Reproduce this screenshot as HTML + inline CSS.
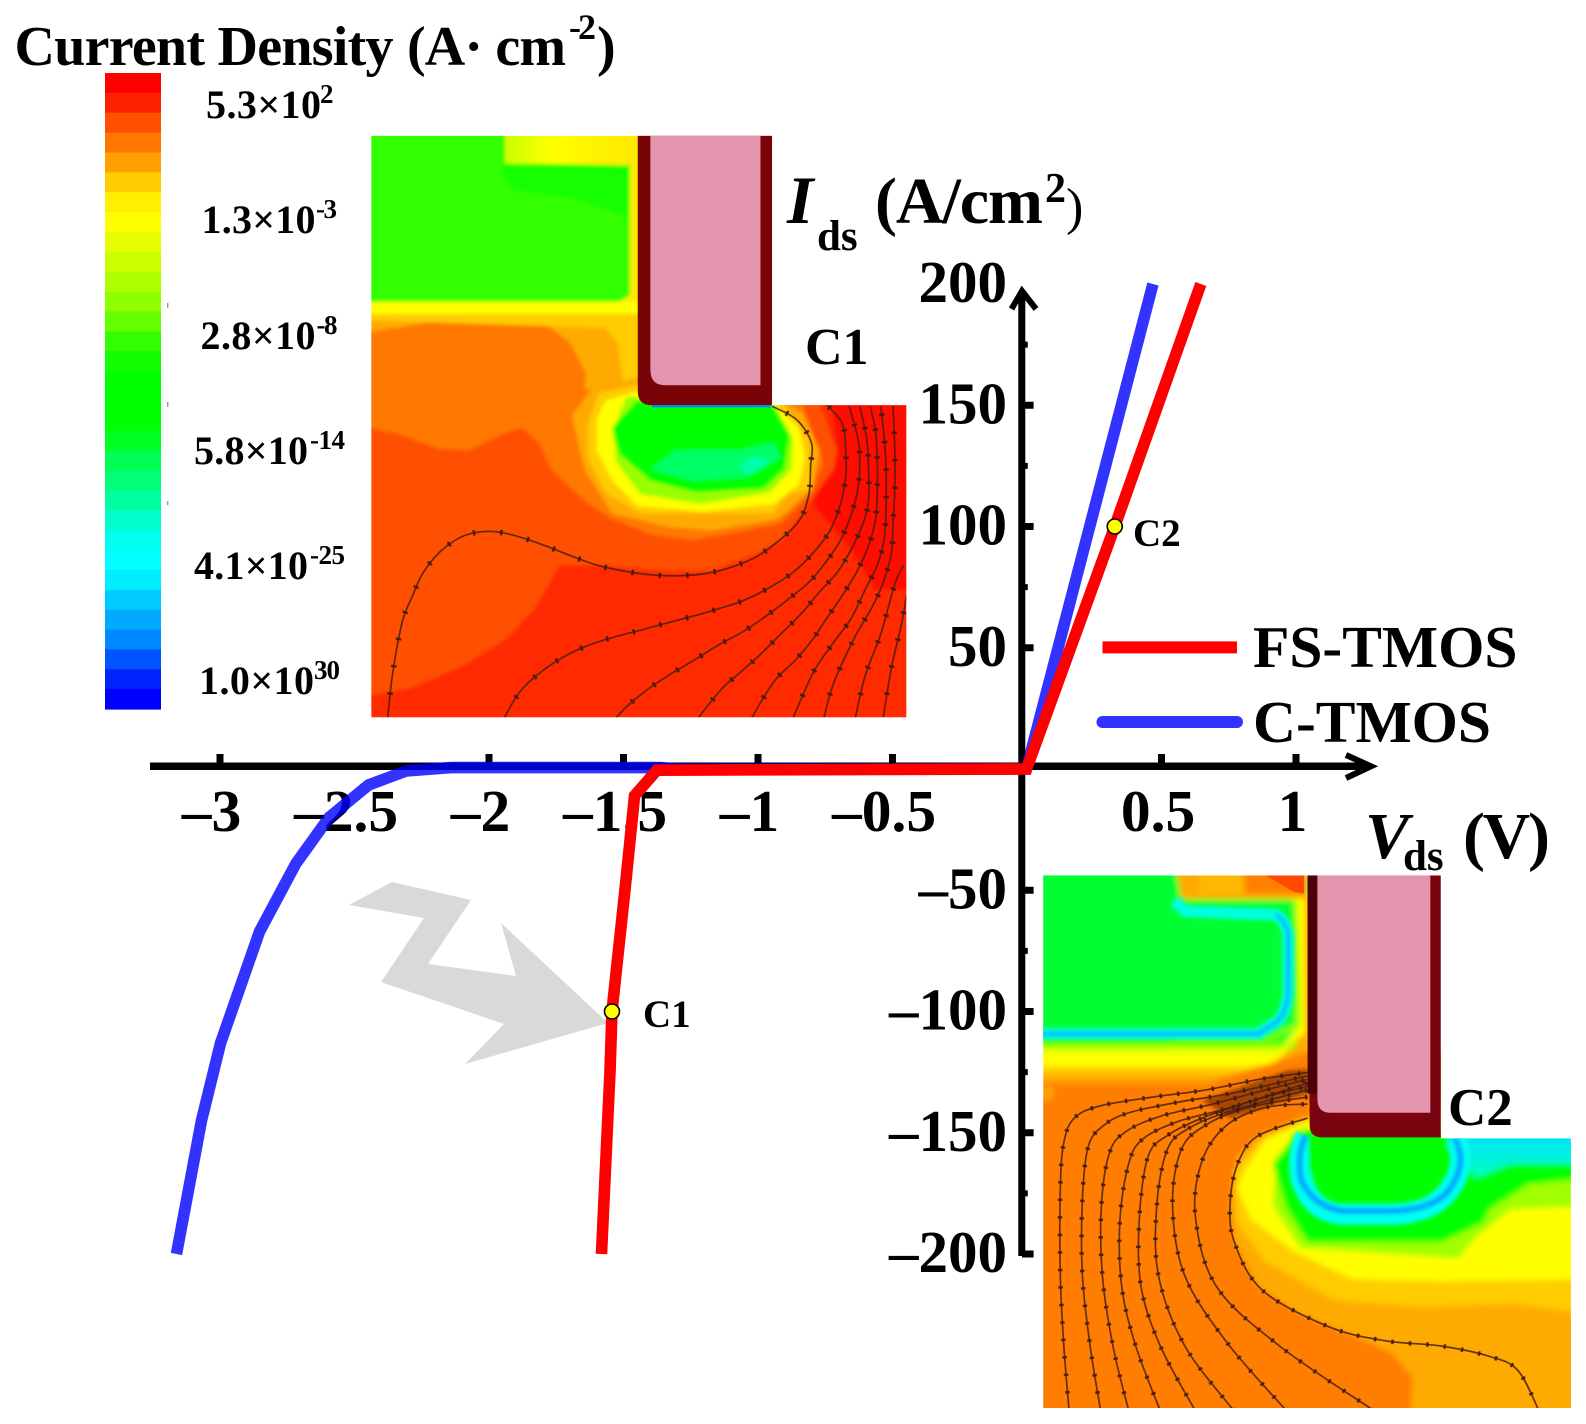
<!DOCTYPE html>
<html lang="en">
<head>
<meta charset="utf-8">
<title>Current density and I-V chart</title>
<style>
html,body{margin:0;padding:0;background:#fff;width:1586px;height:1424px;overflow:hidden}
svg{display:block}
text{font-family:"Liberation Serif","Times New Roman",serif;font-weight:bold;fill:#000}
</style>
</head>
<body>
<svg id="chart" xmlns="http://www.w3.org/2000/svg" width="1586" height="1424" viewBox="0 0 1586 1424">
<defs>
<filter id="soft1" x="-5%" y="-5%" width="110%" height="110%"><feGaussianBlur stdDeviation="5"/></filter>
<filter id="soft2" x="-5%" y="-5%" width="110%" height="110%"><feGaussianBlur stdDeviation="8"/></filter>
<clipPath id="clip1"><polygon points="32,28 1175,28 1175,732 1558,732 1558,1548 32,1548"/></clipPath>
<clipPath id="clip2"><polygon points="66,58 1200,58 1200,808 1571,808 1571,1577 66,1577"/></clipPath>
<linearGradient id="stripA"><stop offset="0" stop-color="#ccff00"/><stop offset=".35" stop-color="#ffff00"/><stop offset="1" stop-color="#ffe800"/></linearGradient>
<linearGradient id="cyanB" x1="0" y1="0" x2="0" y2="1"><stop offset="0" stop-color="#00e0ff"/><stop offset="1" stop-color="#00ffc0"/></linearGradient>
<linearGradient id="bandC" gradientUnits="userSpaceOnUse" x1="0" y1="515" x2="0" y2="660">
<stop offset="0" stop-color="#00ff30"/><stop offset=".14" stop-color="#55ff00"/><stop offset=".26" stop-color="#c8ff00"/><stop offset=".36" stop-color="#ffff00"/><stop offset=".55" stop-color="#ffff00"/><stop offset=".68" stop-color="#ffcc00"/><stop offset=".85" stop-color="#ffaa00"/><stop offset="1" stop-color="#ff8000"/>
</linearGradient>
</defs>

<rect x="0" y="0" width="1586" height="1424" fill="#fff"/>

<!-- colour scale title -->
<g>
<text x="14.5" y="65" font-size="56" textLength="379">Current Density</text>
<text x="407" y="65" font-size="56" textLength="159">(A· cm</text>
<text x="569" y="39" font-size="36" textLength="27">-2</text>
<text x="597" y="65" font-size="56">)</text>
</g>
<g id="colorbar"></g>
<g fill="#999">
<rect x="167" y="303" width="1.4" height="5"/><rect x="167" y="402" width="1.4" height="5"/><rect x="167" y="501" width="1.4" height="4"/>
</g>
<g>
<text x="206" y="118" font-size="40" textLength="115">5.3×10</text><text x="320" y="103" font-size="27">2</text>
<text x="201.5" y="233" font-size="40" textLength="114">1.3×10</text><text x="316" y="218" font-size="27" textLength="21">-3</text>
<text x="200.5" y="349" font-size="40" textLength="115">2.8×10</text><text x="316.5" y="334" font-size="27" textLength="21">-8</text>
<text x="194" y="464" font-size="40" textLength="114">5.8×10</text><text x="310" y="449" font-size="27" textLength="35">-14</text>
<text x="194" y="579" font-size="40" textLength="114">4.1×10</text><text x="310" y="564" font-size="27" textLength="35">-25</text>
<text x="199" y="694" font-size="40" textLength="115">1.0×10</text><text x="314" y="679" font-size="27" textLength="26">30</text>
</g>

<!-- inset C1 -->
<g transform="translate(360,125) scale(0.3507,0.3827)">
<g clip-path="url(#clip1)">
<g filter="url(#soft1)">
<rect x="0" y="0" width="1600" height="1600" fill="#ff2a00"/>
<polygon fill="#ff0a00" points="1340,700 1600,700 1600,1215 1470,1215 1400,1110 1290,990 1360,850"/>
<polygon fill="#ff5000" points="0,0 1300,0 1300,700 1340,800 1360,850 1350,900 1270,1000 1200,1085 1130,1120 1000,1165 850,1165 700,1150 570,1150 500,1260 420,1340 300,1410 150,1470 0,1495"/>
<polygon fill="#ff7800" points="0,0 1250,0 1250,700 1320,880 1290,960 1200,1040 1100,1060 950,1085 830,1070 720,1030 650,990 545,900 510,830 460,790 400,810 310,850 220,845 120,810 0,785"/>
<polygon fill="#ffaa00" points="0,0 800,0 800,700 690,690 640,690 645,650 600,570 530,520 200,515 0,545"/>
<polygon fill="#ffcc00" points="0,495 800,495 800,690 750,670 735,570 700,530 0,510"/>
<polygon fill="#ffaa00" points="605,760 660,690 790,660 1175,710 1260,750 1310,850 1290,950 1230,1000 1190,1030 1000,1060 880,1050 720,1015 640,900"/>
<polygon fill="#ffcc00" points="650,780 680,700 792,680 1200,720 1280,820 1285,950 1220,965 1175,1015 800,1015 700,960 650,870"/>
<polygon fill="#ffff00" points="675,770 700,720 795,695 1175,725 1250,790 1270,870 1250,940 1180,990 980,1010 790,995 720,930 675,850"/>
<polygon fill="#99ff00" points="720,800 760,710 1180,725 1235,820 1230,900 1170,960 970,990 800,965 730,880"/>
<polygon fill="#00ff00" points="720,790 790,720 1175,730 1225,810 1210,900 1150,950 960,960 830,930 740,860"/>
<polygon fill="#00ff66" points="830,900 900,850 1080,850 1180,830 1200,870 1100,920 950,930"/>
<polygon fill="#00ffaa" points="1080,890 1130,865 1170,880 1110,915"/>
<rect x="0" y="0" width="800" height="495" fill="#ffe800"/>
<rect x="0" y="462" width="800" height="30" fill="#ffff00"/>
<rect x="420" y="0" width="372" height="100" fill="url(#stripA)"/>
<polygon fill="#33ff00" points="0,0 415,0 415,100 770,105 770,445 740,462 0,462"/>
<polygon fill="#15ff00" points="400,105 765,105 765,240 600,190 430,170"/>
</g>
<rect x="832" y="728" width="340" height="10" fill="#0090ff"/>
<path d="M792,20H1175V732H830Q792,732 792,695Z" fill="#780408"/>
<path d="M828,20H1142V680H870Q828,680 828,640Z" fill="#e295ac"/>
<g id="streams1"></g>
</g>
</g>

<!-- inset C2 -->
<g transform="translate(1020,855) scale(0.3507)">
<g clip-path="url(#clip2)">
<g filter="url(#soft2)">
<rect x="0" y="560" width="1640" height="1100" fill="#ff7d00"/>
<polygon fill="#ffaa00" points="1110,1640 1120,1490 1060,1420 950,1370 800,1310 680,1230 610,1100 600,1000 620,860 680,800 800,750 826,750 826,700 1640,700 1640,1640"/>
<polygon fill="#ffcc00" points="1640,1310 1400,1280 1150,1290 900,1270 700,1160 620,1050 610,900 690,810 826,750 1640,700"/>
<polygon fill="#ffff00" points="640,900 700,810 826,755 1200,780 1640,780 1640,1210 1200,1215 950,1210 780,1130 660,1040 620,950"/>
<polygon fill="#a0ff00" points="730,900 800,780 1200,780 1640,780 1640,1000 1400,1010 1300,1090 1250,1150 800,1120 720,1000"/>
<polygon fill="#00ff00" points="720,880 790,790 1200,790 1640,860 1640,920 1450,940 1340,1010 1320,1050 1200,1105 820,1105 760,1010"/>
<polygon fill="url(#cyanB)" points="1210,790 1640,790 1640,880 1400,880 1300,920 1270,880"/>
<rect x="0" y="640" width="95" height="60" fill="#ffa000"/>
<rect x="0" y="0" width="830" height="662" fill="url(#bandC)"/>
<polygon fill="#ffaa00" points="780,120 830,120 830,590 700,610 790,540"/>
<polygon fill="#ff8000" points="560,640 830,560 830,660 560,660"/>
<polygon fill="#ffff00" points="770,110 812,110 812,510 740,560 790,490"/>
<polygon fill="#ffaa00" points="440,0 820,0 820,125 460,125"/>
<rect x="510" y="0" width="130" height="110" fill="#ffb800"/>
<rect x="640" y="0" width="170" height="110" fill="#ff8000"/>
<polygon fill="#90ff00" points="440,128 790,128 800,490 700,530 440,530"/>
<polygon fill="#00ff30" points="0,0 430,0 440,130 780,130 785,480 700,520 0,520"/>
</g>
<g filter="url(#soft1)">
<path d="M0,510H680L740,470Q765,430 765,380V230Q760,190 730,170L470,160L440,130" fill="none" stroke="#00ffdd" stroke-width="34"/>
<path d="M0,510H680L740,470Q765,430 765,380V230Q760,190 730,170" fill="none" stroke="#00b8ff" stroke-width="12"/>
<path d="M1240,810Q1280,880 1220,960Q1170,1025 1050,1025H920Q830,1020 800,920Q790,850 815,800" fill="none" stroke="#00ffee" stroke-width="60"/>
<path d="M1240,810Q1280,880 1220,960Q1170,1015 1050,1015H920Q830,1000 800,920Q790,850 815,800" fill="none" stroke="#00aaff" stroke-width="18"/>
<path d="M820,790H1210L1190,930Q1130,985 1030,985H920Q850,970 825,900Z" fill="#00ff00"/>
<polygon fill="#6a2208" opacity="0.6" points="520,700 760,615 820,610 820,680 600,750"/>
</g>
<polygon fill="#ff4a00" points="700,58 810,58 810,110 780,105"/>
<path d="M820,40H1200V805H860Q826,805 826,770Z" fill="#7a0510"/>
<rect x="820" y="40" width="28" height="640" fill="#4a0208"/>
<path d="M848,40H1170V735H885Q848,735 848,695Z" fill="#e295ac"/>
<g id="streams2"></g>
</g>
</g>

<text x="805" y="364" font-size="52">C1</text>
<text x="1448" y="1125" font-size="53">C2</text>

<!-- gray pointer arrow -->
<polygon fill="#d9d9d9" points="349,905 392,882 471,900 428,964 516,976 501,923 608,1023 465,1064 504,1024 381,982 424,918"/>

<!-- axes -->
<g id="axes">
<line x1="150" y1="766.3" x2="1370" y2="766.3" stroke="#000" stroke-width="7.5"/>
<polyline points="1346,755 1371,766.3 1346,778" fill="none" stroke="#000" stroke-width="6"/>
<line x1="1021.8" y1="292" x2="1021.8" y2="1256" stroke="#000" stroke-width="7"/>
<polyline points="1011.5,309 1022,291 1036,309" fill="none" stroke="#000" stroke-width="6"/>
</g>
<g id="xlabels"></g>
<g id="ylabels"></g>

<g>
<text x="787" y="223" font-size="68" font-style="italic">I</text>
<text x="817" y="250" font-size="43">ds</text>
<text x="875" y="223" font-size="66" textLength="168">(A/cm</text>
<text x="1045" y="202" font-size="42">2</text>
<text x="1066" y="224" font-size="52" style="font-weight:normal">)</text>
</g>
<g>
<text x="1365" y="858" font-size="66" font-style="italic">V</text>
<text x="1403" y="870" font-size="43">ds</text>
<text x="1463" y="858" font-size="66" textLength="87">(V)</text>
</g>

<g id="series"></g>

<!-- legend -->
<g>
<g>
<line x1="1102.5" y1="647.4" x2="1237" y2="647.4" stroke="#f00" stroke-width="12"/>
<text x="1253" y="667" font-size="59.5">FS-TMOS</text>
</g>
<g>
<line x1="1102.5" y1="722" x2="1237" y2="722" stroke="#3333ff" stroke-width="12" stroke-linecap="round"/>
<text x="1253" y="742" font-size="59.5">C-TMOS</text>
</g>
</g>

<text x="643" y="1027" font-size="39">C1</text>
<text x="1133" y="546" font-size="39">C2</text>
</svg>

<script>
const xTickValues = [-3, -2, -1.5, -1, -0.5, 0.5, 1];
const xLabelValues = [-3, -2.5, -2, -1.5, -1, -0.5, 0.5, 1];
const yMajorTicks = [150, 100, 50, -50, -100, -150, -200];
const yMinorTicks = [175, 125, 75, -75, -125, -175];
const yLabelValues = [200, 150, 100, 50, -50, -100, -150, -200];

const cTmosV = [-3.16, -3.067, -2.996, -2.851, -2.716, -2.593, -2.446, -2.306, -2.14, -1.36, -1.3, 0, 0.47];
const cTmosI = [-200, -145, -113, -67, -39, -20, -6.6, -0.8, 0.6, 0.6, 0, 0, 200];
const fsTmosV = [-1.58, -1.548, -1.541, -1.49, -1.457, -1.374, -0.017, 0, 0.328, 0.648];
const fsTmosI = [-200, -124, -100, -47, -11, -0.5, 0, 0, 100, 200];

const pointV = [-1.541, 0.328];
const pointI = [-100, 100];
const pointNames = ['c1', 'c2'];

const colorbarColors = ['#ff0000','#ff2200','#ff5000','#ff7700','#ffa000','#ffcc00','#fff000','#ffff00','#e6ff00','#ccff00','#b0ff00','#90ff00','#66ff00','#33ff00','#11ff00','#00ff00','#00ff00','#00ff00','#00ff22','#00ff55','#00ff77','#00ffa0','#00ffcc','#00ffee','#00ffff','#00eeff','#00ccff','#00aaff','#0088ff','#0055ff','#0022ff','#0000ff'];

const streamsC1 = [
[[78,1560],[92,1440],[120,1300],[150,1230],[180,1170],[232,1112],[300,1072],[375,1062],[450,1075],[530,1100],[600,1125],[675,1150],[750,1165],[825,1175],[905,1178],[985,1172],[1060,1155],[1130,1128],[1200,1082],[1255,1030],[1280,965],[1285,890],[1287,830],[1245,770],[1175,735]],
[[405,1560],[455,1482],[515,1430],[580,1390],[650,1360],[725,1338],[800,1320],[880,1300],[955,1282],[1030,1262],[1100,1240],[1175,1205],[1240,1165],[1295,1115],[1340,1060],[1370,990],[1385,920],[1385,850],[1375,780],[1330,730]],
[[720,1560],[760,1520],[820,1475],[885,1435],[950,1400],[1020,1360],[1090,1325],[1155,1285],[1220,1240],[1280,1195],[1330,1140],[1370,1085],[1400,1020],[1420,950],[1425,880],[1420,820],[1395,735]],
[[955,1560],[1030,1475],[1085,1430],[1140,1385],[1200,1330],[1260,1275],[1310,1220],[1360,1170],[1400,1110],[1435,1040],[1450,980],[1450,900],[1445,820],[1425,735]],
[[1110,1560],[1180,1455],[1240,1400],[1290,1345],[1330,1290],[1375,1230],[1415,1170],[1450,1100],[1470,1030],[1475,960],[1475,880],[1470,800],[1455,735]],
[[1230,1560],[1290,1435],[1340,1365],[1400,1290],[1440,1215],[1475,1150],[1495,1080],[1500,1000],[1500,900],[1495,820],[1485,735]],
[[1320,1560],[1350,1460],[1410,1340],[1460,1260],[1490,1200],[1515,1120],[1520,1040],[1525,950],[1525,850],[1520,735]],
[[1410,1560],[1440,1440],[1485,1330],[1525,1200],[1550,1150]],
[[1490,1560],[1515,1420],[1545,1300],[1558,1230]]
];
const streamsC2 = [
[[140,1585],[125,1400],[115,1200],[115,950],[125,820],[155,750],[230,715],[380,690],[530,670],[680,640],[820,620]],
[[230,1585],[200,1400],[178,1200],[178,980],[195,830],[240,770],[310,735],[450,705],[600,680],[820,630]],
[[310,1585],[265,1400],[235,1200],[232,1000],[255,850],[300,790],[400,745],[550,710],[700,670],[820,640]],
[[400,1585],[330,1400],[290,1230],[285,1040],[310,880],[350,810],[450,760],[600,720],[820,650]],
[[500,1585],[400,1400],[345,1230],[340,1040],[365,860],[420,800],[520,750],[700,690],[820,660]],
[[610,1585],[470,1400],[395,1200],[390,1000],[420,840],[480,780],[600,730],[820,670]],
[[760,1585],[590,1390],[470,1200],[435,1000],[460,840],[530,770],[650,720],[820,690]],
[[1010,1585],[740,1400],[560,1230],[500,1030],[520,870],[590,770],[700,720],[820,710]],
[[1480,1585],[1420,1470],[1340,1430],[1200,1400],[1040,1385],[880,1345],[690,1240],[610,1100],[600,980],[625,870],[680,800],[820,750]]
];

const NS = 'http://www.w3.org/2000/svg';
function xScale(v) { return 1026.5 + 269 * v; }
function yScale(v) { return 769 - 2.425 * v; }
function fmt(v) { return (v < 0 ? '\u2013' : '') + Math.abs(v); }
function make(tag, attrs, parent) {
  const el = document.createElementNS(NS, tag);
  for (const k in attrs) el.setAttribute(k, attrs[k]);
  parent.appendChild(el);
  return el;
}
function smooth(pts) {
  let d = 'M' + pts[0][0] + ',' + pts[0][1];
  for (let i = 0; i < pts.length - 1; i++) {
    const p0 = pts[Math.max(i - 1, 0)], p1 = pts[i], p2 = pts[i + 1], p3 = pts[Math.min(i + 2, pts.length - 1)];
    d += 'C' + (p1[0] + (p2[0] - p0[0]) / 6) + ',' + (p1[1] + (p2[1] - p0[1]) / 6) + ' ' +
         (p2[0] - (p3[0] - p1[0]) / 6) + ',' + (p2[1] - (p3[1] - p1[1]) / 6) + ' ' + p2[0] + ',' + p2[1];
  }
  return d;
}

const colorbar = document.getElementById('colorbar');
const bandH = (709 - 73) / colorbarColors.length;
colorbarColors.forEach(function (c, i) {
  const band = make('rect', { x: 105, y: 73 + i * bandH, width: 56, height: bandH + 0.6, fill: c }, colorbar);
  
  
});

function drawStreams(id, list, gap, width) {
  const g = document.getElementById(id);
  list.forEach(function (pts) {
    const d = smooth(pts);
    const line = make('path', { d: d, fill: 'none', stroke: '#4a2010', 'stroke-width': 1.7, 'stroke-opacity': 0.85, 'vector-effect': 'non-scaling-stroke' }, g);
    
    
    const dots = make('path', { d: d, fill: 'none', stroke: '#3a1a10', 'stroke-width': width, 'stroke-opacity': 0.85, 'stroke-dasharray': '2.5 ' + gap, 'vector-effect': 'non-scaling-stroke' }, g);
    
    
  });
}
drawStreams('streams1', streamsC1, 25, 5.5);
drawStreams('streams2', streamsC2, 15, 4.5);

const axes = document.getElementById('axes');
xTickValues.forEach(function (v) {
  const t = make('line', { x1: xScale(v) + 0.5, x2: xScale(v) + 0.5, y1: 754, y2: 764, stroke: '#000', 'stroke-width': 7 }, axes);
  
  
});
yMajorTicks.forEach(function (v) {
  const t = make('line', { x1: 1022, x2: 1033.6, y1: yScale(v), y2: yScale(v), stroke: '#000', 'stroke-width': 7 }, axes);
  
  
});
yMinorTicks.forEach(function (v) {
  const t = make('line', { x1: 1022, x2: 1027.8, y1: yScale(v), y2: yScale(v), stroke: '#000', 'stroke-width': 6 }, axes);
  
  
});

const xlabels = document.getElementById('xlabels');
xLabelValues.forEach(function (v) {
  const t = make('text', { x: xScale(v) + (v < 0 ? -8 : -3), y: 831, 'font-size': 59.5, 'text-anchor': 'middle' }, xlabels);
  
  
  t.textContent = fmt(v);
});
const ylabels = document.getElementById('ylabels');
yLabelValues.forEach(function (v) {
  const t = make('text', { x: 1007, y: yScale(v) + 18, 'font-size': 59, 'text-anchor': 'end' }, ylabels);
  
  
  t.textContent = fmt(v);
});

const series = document.getElementById('series');
function linePath(vs, is) {
  return vs.map(function (v, i) { return (i ? 'L' : 'M') + xScale(v) + ',' + yScale(is[i]); }).join('');
}
const blueLine = make('path', { d: linePath(cTmosV, cTmosI), fill: 'none', stroke: '#0000ff', 'stroke-opacity': 0.8, 'stroke-width': 11.6, 'stroke-linejoin': 'miter' }, series);


const redLine = make('path', { d: linePath(fsTmosV, fsTmosI), fill: 'none', stroke: '#ff0000', 'stroke-width': 11.6, 'stroke-linejoin': 'miter' }, series);


pointV.forEach(function (v, i) {
  const p = make('circle', { cx: xScale(v), cy: yScale(pointI[i]), r: 7.5, fill: '#ffff00', stroke: '#000', 'stroke-width': 1.6 }, series);
  
  
});
</script>
</body>
</html>
